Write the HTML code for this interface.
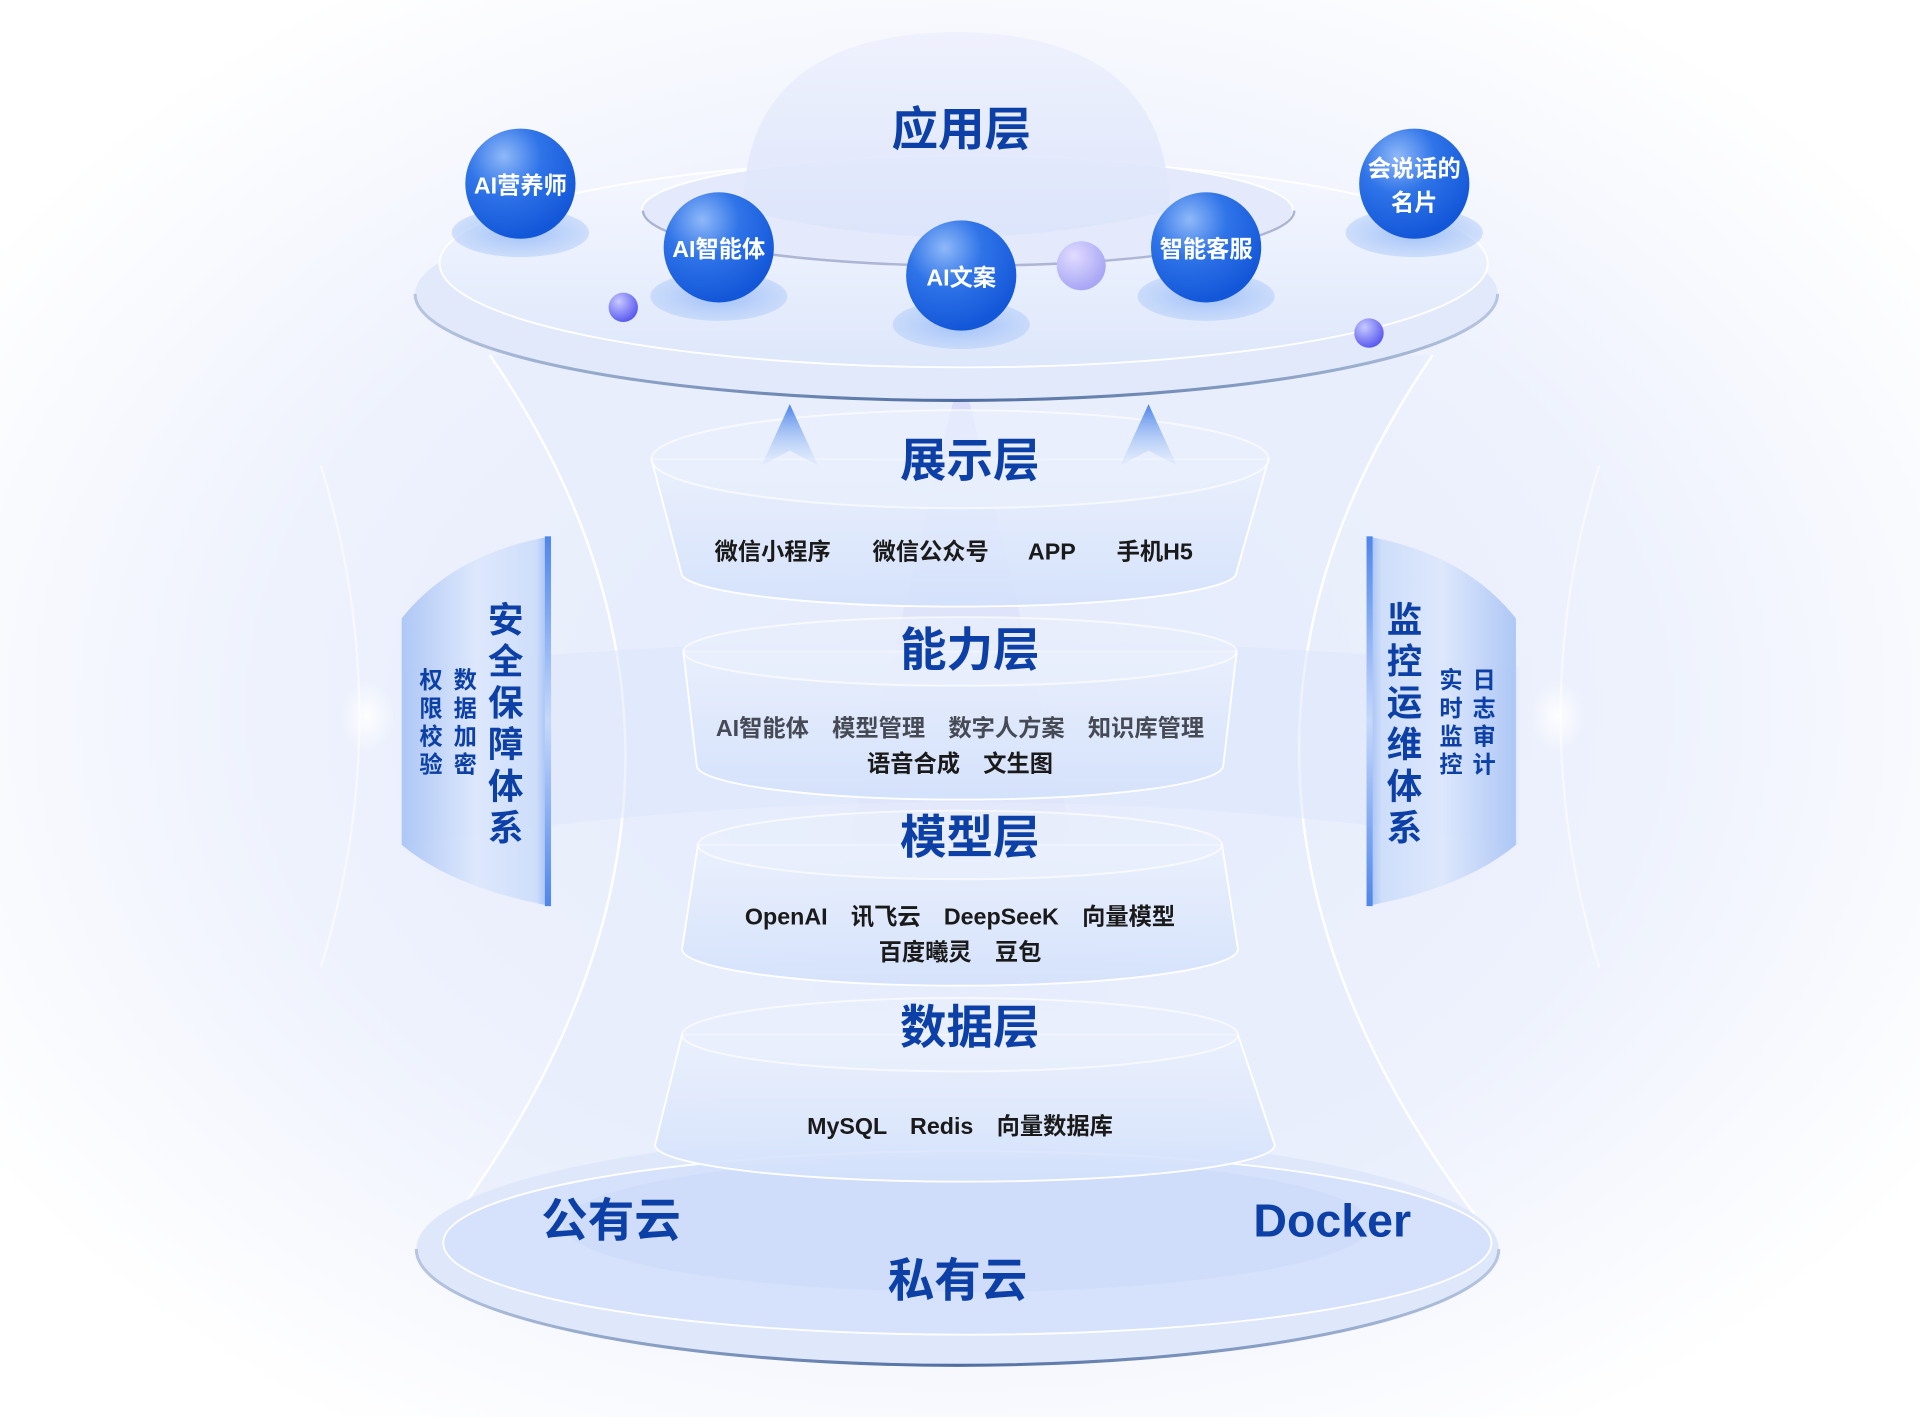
<!DOCTYPE html>
<html><head><meta charset="utf-8"><style>
html,body{margin:0;padding:0;background:#fff;}
svg{display:block;}
text{font-family:"Liberation Sans","Noto Sans CJK SC",sans-serif;font-weight:bold;}
</style></head><body>
<svg width="1920" height="1417" viewBox="0 0 1568 1157.2" xmlns="http://www.w3.org/2000/svg">
<defs>
<radialGradient id="bg" cx="50%" cy="50%" r="60%">
<stop offset="0" stop-color="#e3eafb"/><stop offset="0.6" stop-color="#eef2fd"/><stop offset="1" stop-color="#ffffff"/>
</radialGradient>
<radialGradient id="sph" cx="35%" cy="25%" r="75%">
<stop offset="0" stop-color="#8fb8f8"/><stop offset="0.45" stop-color="#2f74e8"/><stop offset="1" stop-color="#1357d9"/>
</radialGradient>
<radialGradient id="ball" cx="35%" cy="30%" r="70%">
<stop offset="0" stop-color="#c7c9ff"/><stop offset="1" stop-color="#5c5cf0"/>
</radialGradient>
<radialGradient id="ball2" cx="35%" cy="30%" r="70%">
<stop offset="0" stop-color="#e0dcff"/><stop offset="1" stop-color="#a9a6f5"/>
</radialGradient>
<linearGradient id="disk" x1="0" y1="0" x2="0" y2="1">
<stop offset="0" stop-color="#f6f8ff"/><stop offset="1" stop-color="#dde7fb"/>
</linearGradient>
<linearGradient id="cup" x1="0" y1="0" x2="0" y2="1">
<stop offset="0" stop-color="#eaf0fd" stop-opacity="0.8"/><stop offset="1" stop-color="#d3e1fb" stop-opacity="0.9"/>
</linearGradient>
<linearGradient id="dome" x1="0" y1="0" x2="0" y2="1">
<stop offset="0" stop-color="#eef1fd"/><stop offset="1" stop-color="#dbe4fb"/>
</linearGradient>
<linearGradient id="panL" x1="0" y1="0" x2="1" y2="0">
<stop offset="0" stop-color="#a8c3f5"/><stop offset="0.5" stop-color="#dce7fc"/><stop offset="0.9" stop-color="#cbdcfa"/><stop offset="1" stop-color="#8fb2f2"/>
</linearGradient>
<linearGradient id="panR" x1="1" y1="0" x2="0" y2="0">
<stop offset="0" stop-color="#a8c3f5"/><stop offset="0.5" stop-color="#dce7fc"/><stop offset="0.9" stop-color="#cbdcfa"/><stop offset="1" stop-color="#8fb2f2"/>
</linearGradient>
<linearGradient id="bar" x1="0" y1="0" x2="0" y2="1">
<stop offset="0" stop-color="#4f86ea"/><stop offset="0.5" stop-color="#c5d8fb"/><stop offset="1" stop-color="#4f86ea"/>
</linearGradient>
<linearGradient id="beam" x1="0" y1="0" x2="0" y2="1">
<stop offset="0" stop-color="#c9c6f7" stop-opacity="0.8"/><stop offset="1" stop-color="#dfe5fb" stop-opacity="0"/>
</linearGradient>
<linearGradient id="arr" x1="0" y1="0" x2="0" y2="1">
<stop offset="0" stop-color="#4a84ea"/><stop offset="1" stop-color="#cfe0fb" stop-opacity="0.3"/>
</linearGradient>
<linearGradient id="rim" x1="0" y1="0" x2="1" y2="0">
<stop offset="0" stop-color="#b7c6e0"/><stop offset="0.5" stop-color="#4e6c9f"/><stop offset="1" stop-color="#b7c6e0"/>
</linearGradient>
<radialGradient id="glow" cx="50%" cy="50%" r="50%">
<stop offset="0" stop-color="#ffffff"/><stop offset="1" stop-color="#ffffff" stop-opacity="0"/>
</radialGradient>
<radialGradient id="shad" cx="50%" cy="50%" r="50%">
<stop offset="0" stop-color="#9fc0f7"/><stop offset="1" stop-color="#b8d0fa" stop-opacity="0.6"/>
</radialGradient>
</defs>
<rect width="1568" height="1157.2" fill="url(#bg)"/>
<!-- side faint arcs -->
<path d="M262 380 Q325 585 262 790" stroke="#fff" stroke-width="2" fill="none" opacity="0.5"/>
<path d="M1306 380 Q1243 585 1306 790" stroke="#fff" stroke-width="2" fill="none" opacity="0.5"/>
<ellipse cx="300" cy="585" rx="22" ry="30" fill="url(#glow)" opacity="0.9"/>
<ellipse cx="1272" cy="585" rx="22" ry="30" fill="url(#glow)" opacity="0.9"/>
<!-- hourglass body -->
<path d="M400 290 Q640 640 360 1010 L1218 1010 Q930 640 1170 290 Z" fill="#e6edfc" opacity="0.6"/>
<path d="M400 290 Q640 640 360 1010" stroke="#fff" stroke-width="2" fill="none"/>
<path d="M1170 290 Q930 640 1218 1010" stroke="#fff" stroke-width="2" fill="none"/>
<!-- horizontal band through panels -->
<path d="M330 545 Q785 500 1240 545 L1240 690 Q785 620 330 690 Z" fill="#dbe6fc" opacity="0.5"/>
<!-- bottom disk -->
<ellipse cx="782" cy="1020" rx="442" ry="95" fill="#dfe8fb"/>
<path d="M340 1020 A442 95 0 0 0 1224 1020" stroke="url(#rim)" stroke-width="2.5" fill="none"/>
<ellipse cx="790" cy="1015" rx="428" ry="75" fill="#d6e2fb" stroke="#fff" stroke-width="1.5"/>
<ellipse cx="790" cy="1000" rx="330" ry="55" fill="#c9d8f9" opacity="0.5"/>
<!-- central beam -->
<path d="M785 300 L650 870 L920 870 Z" fill="url(#beam)" opacity="0.6"/>
<!-- cups -->
<g stroke="#fff" stroke-width="1.5">
<path d="M532 375 L557 470 A227 28 0 0 0 1009 470 L1036 375 Z" fill="url(#cup)"/>
<ellipse cx="784" cy="375" rx="252" ry="40" fill="#eaf0fd" opacity="0.7"/>
<path d="M558 532 L569 625 A215 28 0 0 0 999 625 L1010 532 Z" fill="url(#cup)"/>
<ellipse cx="784" cy="532" rx="226" ry="28" fill="#eaf0fd" opacity="0.7"/>
<path d="M570 690 L557 775 A227 30 0 0 0 1011 775 L998 690 Z" fill="url(#cup)"/>
<ellipse cx="784" cy="690" rx="214" ry="28" fill="#eaf0fd" opacity="0.7"/>
<path d="M557 845 L535 935 A253 30 0 0 0 1041 935 L1011 845 Z" fill="url(#cup)"/>
<ellipse cx="784" cy="845" rx="227" ry="30" fill="#eaf0fd" opacity="0.7"/>
</g>
<!-- arrows -->
<path d="M645 330 L668 380 L645 368 L622 380 Z" fill="url(#arr)"/>
<path d="M938 330 L961 380 L938 368 L915 380 Z" fill="url(#arr)"/>
<!-- top disk -->
<ellipse cx="781" cy="240" rx="442" ry="87" fill="#e1e9fb"/>
<path d="M339 240 A442 87 0 0 0 1223 240" stroke="url(#rim)" stroke-width="2.5" fill="none"/>
<ellipse cx="787" cy="215" rx="428" ry="85" fill="url(#disk)" stroke="#fff" stroke-width="1.5"/>
<ellipse cx="790" cy="172" rx="266" ry="45" fill="#e4eafb" stroke="#fff" stroke-width="1.5"/>
<path d="M607 172 Q607 28 781 26 Q955 28 955 172 Q781 215 607 172 Z" fill="url(#dome)" opacity="0.9"/>
<path d="M525 172 A266 45 0 0 0 1057 172" stroke="#8c97c2" stroke-width="2" fill="none" opacity="0.7"/>
<!-- sphere shadows & spheres -->
<g>
<ellipse cx="425" cy="190" rx="56" ry="20" fill="url(#shad)"/>
<ellipse cx="587" cy="242" rx="56" ry="20" fill="url(#shad)"/>
<ellipse cx="785" cy="265" rx="56" ry="20" fill="url(#shad)"/>
<ellipse cx="985" cy="242" rx="56" ry="20" fill="url(#shad)"/>
<ellipse cx="1155" cy="190" rx="56" ry="20" fill="url(#shad)"/>
<circle cx="425" cy="150" r="45" fill="url(#sph)"/>
<circle cx="587" cy="202" r="45" fill="url(#sph)"/>
<circle cx="785" cy="225" r="45" fill="url(#sph)"/>
<circle cx="985" cy="202" r="45" fill="url(#sph)"/>
<circle cx="1155" cy="150" r="45" fill="url(#sph)"/>
<circle cx="509" cy="251" r="12" fill="url(#ball)"/>
<circle cx="883" cy="217" r="20" fill="url(#ball2)"/>
<circle cx="1118" cy="272" r="12" fill="url(#ball)"/>
</g>
<g fill="#fff" font-size="19" text-anchor="middle">
<text x="425" y="158">AI营养师</text>
<text x="587" y="210">AI智能体</text>
<text x="785" y="233">AI文案</text>
<text x="985" y="210">智能客服</text>
<text x="1155" y="144">会说话的</text>
<text x="1155" y="172">名片</text>
</g>
<!-- side panels -->
<path d="M328 505 Q370 452 450 438 L450 740 Q370 725 328 690 Z" fill="url(#panL)" opacity="0.9"/>
<rect x="445" y="438" width="5" height="302" fill="url(#bar)"/>
<path d="M1238 505 Q1196 452 1116 438 L1116 740 Q1196 725 1238 690 Z" fill="url(#panR)" opacity="0.9"/>
<rect x="1116" y="438" width="5" height="302" fill="url(#bar)"/>
<g fill="#0c40a6" text-anchor="middle">
<g font-size="29">
<text x="413" y="516">安</text><text x="413" y="550">全</text><text x="413" y="584">保</text><text x="413" y="618">障</text><text x="413" y="652">体</text><text x="413" y="686">系</text>
<text x="1147" y="516">监</text><text x="1147" y="550">控</text><text x="1147" y="584">运</text><text x="1147" y="618">维</text><text x="1147" y="652">体</text><text x="1147" y="686">系</text>
</g>
<g font-size="19">
<text x="380" y="562">数</text><text x="380" y="585">据</text><text x="380" y="608">加</text><text x="380" y="631">密</text>
<text x="352" y="562">权</text><text x="352" y="585">限</text><text x="352" y="608">校</text><text x="352" y="631">验</text>
<text x="1185" y="562">实</text><text x="1185" y="585">时</text><text x="1185" y="608">监</text><text x="1185" y="631">控</text>
<text x="1212" y="562">日</text><text x="1212" y="585">志</text><text x="1212" y="608">审</text><text x="1212" y="631">计</text>
</g>
</g>
<!-- titles -->
<g fill="#0c40a6" font-size="38" text-anchor="middle">
<text x="785" y="119">应用层</text>
<text x="792" y="389">展示层</text>
<text x="792" y="544">能力层</text>
<text x="792" y="697">模型层</text>
<text x="792" y="852">数据层</text>
<text x="499" y="1010">公有云</text>
<text x="1088" y="1010">Docker</text>
<text x="782" y="1059">私有云</text>
</g>
<g fill="#1a1a1a" font-size="19" text-anchor="middle">
<text x="631" y="457">微信小程序</text>
<text x="760" y="457">微信公众号</text>
<text x="859" y="457">APP</text>
<text x="943" y="457">手机H5</text>
</g>
<g fill="#454a55" font-size="19" text-anchor="middle">
<text x="784" y="601">AI智能体　模型管理　数字人方案　知识库管理</text>
</g>
<g fill="#1a1a1a" font-size="19" text-anchor="middle">
<text x="784" y="630">语音合成　文生图</text>
<text x="784" y="755">OpenAI　讯飞云　DeepSeeK　向量模型</text>
<text x="784" y="784">百度曦灵　豆包</text>
<text x="784" y="926">MySQL　Redis　向量数据库</text>
</g>
</svg>
</body></html>
